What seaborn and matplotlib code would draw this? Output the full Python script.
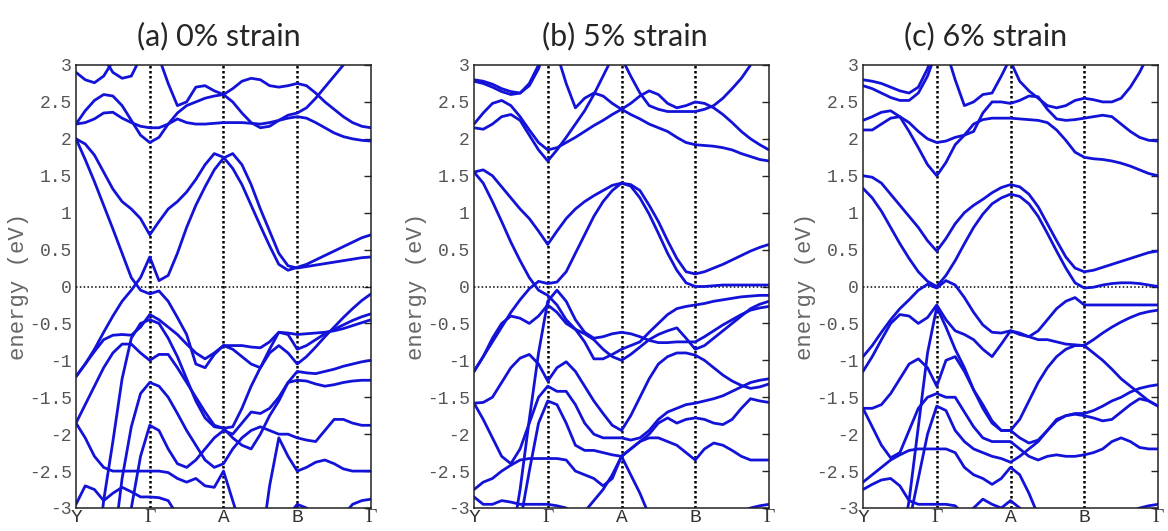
import numpy as np
import pandas as pd
import matplotlib
matplotlib.use('Agg')
import matplotlib.pyplot as plt
import seaborn as sns

# k-path Y - Gamma - A - B - Gamma, eight samples per segment
k_path = np.linspace(0, 4, 33)
k_labels = ['Y', 'Γ', 'A', 'B', 'Γ']
titles = ['(a) 0% strain', '(b) 5% strain', '(c) 6% strain']

# band energies (eV), one row per drawn line
bands_0 = [
    [2.2, 2.38, 2.52, 2.6, 2.58, 2.45, 2.25, 2.05, 1.95, 2.02, 2.2, 2.35, 2.45, 2.5, 2.55, 2.58, 2.6,
     2.68, 2.78, 2.82, 2.8, 2.72, 2.7, 2.72, 2.75, 2.72, 2.62, 2.5, 2.4, 2.3, 2.22, 2.17, 2.15],
    [2.2, 2.22, 2.27, 2.35, 2.36, 2.28, 2.22, 2.17, 2.15, 2.15, 2.2, 2.27, 2.22, 2.2, 2.2, 2.21, 2.22,
     2.22, 2.22, 2.21, 2.2, 2.22, 2.25, 2.28, 2.3, 2.28, 2.22, 2.15, 2.08, 2.03, 2.0, 1.98, 1.97],
    [3.6, 3.6, 3.6, 3.6, 3.6, 3.6, 3.6, 3.6, 3.4, 3.1, 2.75, 2.45, 2.5, 2.7, 2.72, 2.65, 2.6,
     2.5, 2.35, 2.22, 2.15, 2.17, 2.25, 2.32, 2.35, 2.42, 2.55, 2.7, 2.85, 3.0, 3.15, 3.3, 3.45],
    [2.9, 2.8, 2.76, 2.85, 3.05, 3.3, 3.6, 3.6, 3.6, 3.6, 3.6, 3.6, 3.6, 3.6, 3.6, 3.6, 3.6,
     3.6, 3.6, 3.6, 3.6, 3.6, 3.6, 3.6, 3.6, 3.6, 3.6, 3.6, 3.6, 3.6, 3.6, 3.6, 3.6],
    [3.6, 3.5, 3.3, 3.1, 2.9, 2.82, 2.85, 3.1, 3.4, 3.6, 3.6, 3.6, 3.6, 3.6, 3.6, 3.6, 3.6,
     3.6, 3.6, 3.6, 3.6, 3.6, 3.6, 3.6, 3.6, 3.6, 3.6, 3.6, 3.6, 3.6, 3.6, 3.6, 3.6],
    [2.0, 1.93, 1.78, 1.55, 1.32, 1.15, 1.05, 0.92, 0.7, 0.88, 1.05, 1.15, 1.28, 1.45, 1.65, 1.8, 1.75,
     1.6, 1.38, 1.1, 0.82, 0.55, 0.3, 0.22, 0.26, 0.3, 0.36, 0.42, 0.48, 0.54, 0.6, 0.66, 0.7],
    [2.0, 1.72, 1.42, 1.1, 0.78, 0.45, 0.12, -0.05, -0.1, -0.06, -0.2, -0.42, -0.65, -1.05, -1.1, -0.92, -0.8,
     -0.8, -0.8, -0.82, -0.83, -0.75, -0.62, -0.63, -0.65, -0.64, -0.63, -0.62, -0.6, -0.57, -0.53, -0.49, -0.45],
    [-1.22, -1.05, -0.85, -0.62, -0.4, -0.2, -0.05, 0.12, 0.4, 0.08, 0.15, 0.45, 0.8, 1.1, 1.35, 1.58, 1.74,
     1.8, 1.65, 1.38, 1.05, 0.75, 0.45, 0.28, 0.25, 0.27, 0.29, 0.31, 0.33, 0.35, 0.37, 0.39, 0.4],
    [-1.22, -1.05, -0.88, -0.72, -0.66, -0.65, -0.66, -0.55, -0.38, -0.45, -0.55, -0.65, -0.78, -0.9, -0.98, -0.9, -0.8,
     -0.85, -0.95, -1.05, -1.1, -0.85, -0.62, -0.65, -0.85, -0.8, -0.72, -0.64, -0.58, -0.52, -0.46, -0.41, -0.37],
    [-4.0, -4.0, -4.0, -2.9, -2.1, -1.25, -0.7, -0.5, -0.45, -0.5, -0.7, -0.95, -1.25, -1.55, -1.78, -1.9, -1.92,
     -1.9, -1.65, -1.35, -1.1, -0.9, -0.8, -0.9, -1.05, -0.95, -0.82, -0.68, -0.55, -0.42, -0.3, -0.19, -0.1],
    [-1.85, -1.6, -1.35, -1.1, -0.9, -0.78, -0.78, -0.9, -1.0, -0.92, -0.92, -1.1, -1.3, -1.5, -1.7, -1.88, -1.92,
     -2.05, -2.15, -2.2, -2.0, -1.75, -1.55, -1.3, -1.15, -1.17, -1.18, -1.15, -1.12, -1.08, -1.05, -1.02, -1.0],
    [-4.0, -4.0, -4.0, -4.0, -3.6, -2.6, -1.9, -1.45, -1.3, -1.35, -1.5, -1.72, -1.95, -2.15, -2.35, -2.45, -2.4,
     -2.2, -2.05, -1.95, -1.9, -1.95, -2.0, -2.0, -2.05, -2.08, -2.1, -1.95, -1.8, -1.8, -1.85, -1.88, -1.88],
    [-1.85, -2.05, -2.3, -2.45, -2.5, -2.5, -2.5, -2.5, -2.5, -2.5, -2.52, -2.6, -2.65, -2.6, -2.7, -2.72, -2.5,
     -2.9, -3.3, -3.6, -3.6, -2.7, -2.05, -2.3, -2.5, -2.45, -2.38, -2.35, -2.4, -2.47, -2.5, -2.5, -2.5],
    [-4.0, -4.0, -4.0, -4.0, -4.0, -3.6, -3.0, -2.3, -1.88, -1.95, -2.2, -2.4, -2.45, -2.35, -2.2, -2.05, -1.95,
     -2.0, -1.85, -1.7, -1.72, -1.65, -1.5, -1.3, -1.27, -1.28, -1.32, -1.35, -1.33, -1.3, -1.28, -1.27, -1.27],
    [-2.95, -2.7, -2.75, -2.9, -2.8, -2.72, -2.78, -2.85, -2.85, -2.86, -2.9, -3.1, -3.3, -3.5, -3.5, -3.5, -3.5,
     -3.5, -3.5, -3.5, -3.5, -3.5, -3.5, -3.1, -2.95, -3.0, -3.1, -3.2, -3.2, -3.1, -2.95, -2.9, -2.88],
]

bands_5 = [
    [2.8, 2.78, 2.74, 2.68, 2.64, 2.62, 2.75, 3.0, 3.3, 3.6, 3.6, 3.6, 3.6, 3.6, 3.6, 3.6, 3.6,
     3.6, 3.6, 3.6, 3.6, 3.6, 3.6, 3.6, 3.6, 3.6, 3.6, 3.6, 3.6, 3.6, 3.6, 3.6, 3.6],
    [2.78, 2.75, 2.7, 2.64, 2.6, 2.62, 2.72, 2.95, 3.3, 3.6, 3.6, 3.6, 3.6, 3.6, 3.6, 3.6, 3.6,
     3.6, 3.6, 3.6, 3.6, 3.6, 3.6, 3.6, 3.6, 3.6, 3.6, 3.6, 3.6, 3.6, 3.6, 3.6, 3.6],
    [2.2, 2.35, 2.48, 2.52, 2.45, 2.3, 2.12, 1.95, 1.85, 1.88, 1.95, 2.02, 2.1, 2.18, 2.25, 2.33, 2.4,
     2.48, 2.58, 2.65, 2.6, 2.48, 2.42, 2.45, 2.5, 2.48, 2.42, 2.33, 2.22, 2.1, 2.0, 1.92, 1.85],
    [2.15, 2.13, 2.2, 2.3, 2.33, 2.25, 2.05, 1.85, 1.7, 1.85, 2.02, 2.2, 2.38, 2.6, 2.85, 3.1, 3.4,
     3.6, 3.6, 3.6, 3.6, 3.6, 3.6, 3.6, 3.6, 3.6, 3.6, 3.6, 3.6, 3.6, 3.6, 3.6, 3.6],
    [3.6, 3.6, 3.6, 3.6, 3.6, 3.6, 3.6, 3.6, 3.5, 3.15, 2.75, 2.42, 2.55, 2.62, 2.58, 2.48, 2.4,
     2.33, 2.27, 2.2, 2.15, 2.1, 2.02, 1.95, 1.92, 1.91, 1.9, 1.88, 1.85, 1.8, 1.76, 1.72, 1.7],
    [3.6, 3.6, 3.6, 3.6, 3.6, 3.6, 3.6, 3.6, 3.6, 3.6, 3.6, 3.6, 3.6, 3.6, 3.6, 3.5, 3.1,
     2.85, 2.62, 2.45, 2.4, 2.37, 2.37, 2.37, 2.37, 2.4, 2.45, 2.55, 2.68, 2.82, 3.0, 3.2, 3.4],
    [1.55, 1.58, 1.5, 1.35, 1.2, 1.05, 0.92, 0.75, 0.57, 0.75, 0.92, 1.05, 1.15, 1.23, 1.3, 1.37, 1.4,
     1.38, 1.3, 1.1, 0.88, 0.62, 0.38, 0.2, 0.17, 0.2, 0.25, 0.3, 0.36, 0.42, 0.48, 0.53, 0.57],
    [1.55, 1.4, 1.15, 0.88, 0.6, 0.35, 0.12, -0.05, -0.12, -0.25, -0.45, -0.58, -0.75, -0.98, -0.98, -0.92, -0.85,
     -0.8, -0.75, -0.62, -0.5, -0.38, -0.3, -0.27, -0.25, -0.23, -0.2, -0.18, -0.16, -0.14, -0.13, -0.12, -0.12],
    [-1.15, -0.95, -0.75, -0.55, -0.35, -0.18, -0.03, 0.07, 0.04, 0.06, 0.2, 0.45, 0.7, 0.95, 1.15, 1.3, 1.4,
     1.36, 1.2, 0.98, 0.72, 0.45, 0.22, 0.05, 0.0, 0.0, 0.01, 0.02, 0.02, 0.02, 0.02, 0.02, 0.02],
    [-1.15, -0.95, -0.7, -0.5, -0.4, -0.43, -0.5, -0.4, -0.25, -0.35, -0.5, -0.58, -0.64, -0.72, -0.85, -0.95, -1.0,
     -0.92, -0.82, -0.72, -0.65, -0.6, -0.56, -0.7, -0.85, -0.8, -0.7, -0.6, -0.5, -0.4, -0.3, -0.24, -0.2],
    [-4.0, -4.0, -4.0, -4.0, -3.5, -2.75, -1.8, -0.9, -0.2, -0.05, -0.2, -0.45, -0.62, -0.7, -0.68, -0.64, -0.62,
     -0.64, -0.68, -0.73, -0.76, -0.76, -0.75, -0.75, -0.75, -0.68, -0.6, -0.52, -0.45, -0.38, -0.32, -0.29, -0.27],
    [-1.58, -1.57, -1.5, -1.3, -1.1, -0.97, -0.92, -1.05, -1.28, -1.1, -1.02, -1.15, -1.35, -1.55, -1.72, -1.88, -1.95,
     -1.75, -1.5, -1.25, -1.05, -0.95, -0.9, -0.9, -0.93, -1.0, -1.1, -1.2, -1.28, -1.34, -1.38, -1.36, -1.32],
    [-1.58, -1.8, -2.05, -2.3, -2.4, -2.2, -1.85, -1.5, -1.35, -1.42, -1.42, -1.6, -1.85, -2.0, -2.05, -2.05, -2.05,
     -2.08, -2.05, -1.95, -1.8, -1.7, -1.65, -1.6, -1.58, -1.55, -1.52, -1.48, -1.42, -1.36, -1.3, -1.27, -1.25],
    [-4.0, -4.0, -4.0, -4.0, -3.8, -3.2, -2.5, -1.85, -1.55, -1.6, -1.85, -2.15, -2.22, -2.22, -2.25, -2.28, -2.3,
     -2.2, -2.1, -2.0, -1.85, -1.78, -1.85, -1.8, -1.78, -1.8, -1.85, -1.87, -1.8, -1.65, -1.52, -1.55, -1.57],
    [-2.75, -2.65, -2.6, -2.5, -2.42, -2.35, -2.33, -2.33, -2.33, -2.33, -2.35, -2.5, -2.55, -2.6, -2.7, -2.6, -2.3,
     -2.2, -2.1, -2.05, -2.05, -2.1, -2.15, -2.25, -2.35, -2.2, -2.12, -2.15, -2.22, -2.3, -2.35, -2.35, -2.35],
    [-2.85, -2.95, -2.95, -2.9, -2.92, -2.95, -2.95, -2.95, -2.95, -2.97, -3.0, -3.1, -3.05, -2.9, -2.75, -2.55, -2.3,
     -2.55, -2.8, -3.1, -3.4, -3.6, -3.6, -3.6, -3.6, -3.4, -3.3, -3.2, -3.1, -3.05, -3.0, -2.97, -2.95],
]

bands_6 = [
    [2.8, 2.78, 2.75, 2.7, 2.65, 2.62, 2.7, 2.95, 3.3, 3.6, 3.6, 3.6, 3.6, 3.6, 3.6, 3.6, 3.6,
     3.6, 3.6, 3.6, 3.6, 3.6, 3.6, 3.6, 3.6, 3.6, 3.6, 3.6, 3.6, 3.6, 3.6, 3.6, 3.6],
    [2.72, 2.68, 2.62, 2.56, 2.52, 2.52, 2.62, 2.85, 3.2, 3.6, 3.6, 3.6, 3.6, 3.6, 3.6, 3.6, 3.6,
     3.6, 3.6, 3.6, 3.6, 3.6, 3.6, 3.6, 3.6, 3.6, 3.6, 3.6, 3.6, 3.6, 3.6, 3.6, 3.6],
    [2.25, 2.3, 2.36, 2.38, 2.3, 2.1, 1.88, 1.65, 1.5, 1.68, 1.92, 2.05, 2.2, 2.26, 2.28, 2.28, 2.28,
     2.27, 2.26, 2.25, 2.22, 2.12, 1.98, 1.82, 1.75, 1.73, 1.72, 1.7, 1.67, 1.63, 1.58, 1.53, 1.5],
    [2.12, 2.12, 2.2, 2.28, 2.3, 2.22, 2.1, 2.0, 1.95, 1.97, 2.02, 2.05, 2.1, 2.35, 2.5, 2.5, 2.48,
     2.52, 2.58, 2.57, 2.4, 2.27, 2.25, 2.26, 2.28, 2.3, 2.32, 2.3, 2.2, 2.1, 2.02, 1.98, 1.97],
    [3.6, 3.6, 3.6, 3.6, 3.6, 3.6, 3.6, 3.6, 3.6, 3.6, 3.6, 3.6, 3.6, 3.6, 3.6, 3.4, 3.05,
     2.78, 2.65, 2.55, 2.45, 2.42, 2.45, 2.52, 2.55, 2.53, 2.5, 2.5, 2.55, 2.7, 2.9, 3.15, 3.4],
    [3.6, 3.6, 3.6, 3.6, 3.6, 3.6, 3.6, 3.6, 3.5, 3.2, 2.8, 2.45, 2.5, 2.6, 2.62, 2.85, 3.1,
     3.4, 3.6, 3.6, 3.6, 3.6, 3.6, 3.6, 3.6, 3.6, 3.6, 3.6, 3.6, 3.6, 3.6, 3.6, 3.6],
    [1.5, 1.48, 1.4, 1.25, 1.1, 0.95, 0.8, 0.62, 0.48, 0.65, 0.85, 1.0, 1.1, 1.18, 1.27, 1.34, 1.38,
     1.35, 1.25, 1.08, 0.85, 0.62, 0.4, 0.25, 0.2, 0.22, 0.26, 0.3, 0.34, 0.38, 0.42, 0.46, 0.48],
    [1.33, 1.2, 1.02, 0.8, 0.58, 0.38, 0.2, 0.07, 0.0, 0.15, 0.35, 0.58, 0.8, 0.98, 1.12, 1.2, 1.25,
     1.22, 1.12, 0.95, 0.72, 0.48, 0.25, 0.05, -0.02, -0.01, 0.02, 0.04, 0.05, 0.05, 0.04, 0.02, 0.0],
    [-0.95, -0.8, -0.62, -0.45, -0.3, -0.18, -0.05, 0.03, -0.02, 0.08, 0.02, -0.15, -0.35, -0.52, -0.62, -0.63, -0.6,
     -0.63, -0.68, -0.72, -0.72, -0.75, -0.78, -0.79, -0.8, -0.72, -0.63, -0.55, -0.48, -0.42, -0.37, -0.34, -0.32],
    [-1.15, -0.95, -0.72, -0.5, -0.38, -0.4, -0.5, -0.42, -0.25, -0.45, -0.6, -0.65, -0.72, -0.85, -0.95, -0.78, -0.6,
     -0.65, -0.68, -0.6, -0.45, -0.3, -0.2, -0.15, -0.25, -0.25, -0.25, -0.25, -0.25, -0.25, -0.25, -0.25, -0.25],
    [-4.0, -4.0, -4.0, -4.0, -3.6, -2.9, -1.9, -0.9, -0.28, -0.55, -0.85, -1.1, -1.4, -1.65, -1.85, -1.95, -1.95,
     -1.8, -1.55, -1.3, -1.1, -0.95, -0.85, -0.8, -0.8, -0.9, -1.0, -1.12, -1.25, -1.35, -1.45, -1.55, -1.62],
    [-1.65, -1.65, -1.6, -1.45, -1.25, -1.05, -0.98, -1.1, -1.35, -1.0, -0.95, -1.15, -1.4, -1.6, -1.82, -1.95, -1.95,
     -2.05, -2.12, -2.08, -1.95, -1.82, -1.75, -1.72, -1.72, -1.68, -1.62, -1.55, -1.5, -1.43, -1.38, -1.35, -1.33],
    [-4.0, -4.0, -4.0, -4.0, -3.8, -3.2, -2.6, -2.0, -1.62, -1.68, -1.95, -2.1, -2.2, -2.25, -2.3, -2.33, -2.38,
     -2.3, -2.2, -2.1, -1.95, -1.8, -1.75, -1.73, -1.75, -1.78, -1.82, -1.8, -1.7, -1.6, -1.52, -1.55, -1.62],
    [-2.65, -2.55, -2.45, -2.35, -2.28, -2.22, -2.2, -2.2, -2.2, -2.2, -2.25, -2.45, -2.55, -2.6, -2.68, -2.6, -2.45,
     -2.55, -2.8, -3.1, -3.4, -3.6, -3.6, -3.6, -3.6, -3.6, -3.6, -3.6, -3.6, -3.6, -3.6, -3.6, -3.6],
    [-1.65, -1.9, -2.15, -2.32, -2.25, -1.95, -1.65, -1.5, -1.45, -1.5, -1.5, -1.7, -1.9, -2.05, -2.1, -2.1, -2.1,
     -2.2, -2.3, -2.35, -2.3, -2.28, -2.3, -2.3, -2.28, -2.25, -2.2, -2.1, -2.05, -2.1, -2.18, -2.2, -2.2],
    [-2.75, -2.68, -2.62, -2.6, -2.7, -2.9, -2.95, -2.95, -2.95, -2.95, -2.97, -3.1, -3.0, -2.88, -2.95, -3.0, -2.9,
     -3.0, -3.1, -3.3, -3.5, -3.6, -3.6, -3.6, -3.6, -3.4, -3.3, -3.2, -3.1, -3.05, -3.0, -2.97, -2.95],
]

panel_bands = [bands_0, bands_5, bands_6]


def to_long(bands):
    rows = []
    for i, band in enumerate(bands):
        for k, e in zip(k_path, band):
            rows.append({'k': k, 'energy': e, 'band': i})
    return pd.DataFrame(rows)


sns.set_style('white')
plt.rcParams['font.family'] = ['Liberation Mono', 'DejaVu Sans']

fig = plt.figure(figsize=(11.68, 5.31), dpi=100)
lefts = [76 / 1168, 474 / 1168, 863 / 1168]
title_x = [219 / 1168, 625 / 1168, 986 / 1168]

for left, bands, title, tx in zip(lefts, panel_bands, titles, title_x):
    ax = fig.add_axes([left, 23 / 531, 295 / 1168, 443 / 531])
    df = to_long(bands)
    sns.lineplot(data=df, x='k', y='energy', units='band', estimator=None,
                 sort=False, color='#1212d8', linewidth=2.0, ax=ax)

    # high-symmetry points and the Fermi level
    for xv in [1, 2, 3]:
        ax.axvline(xv, color='black', linestyle=(0, (1, 1)), linewidth=1.8, zorder=1)
    ax.axhline(0, color='black', linestyle=(0, (1, 1.5)), linewidth=1.1, zorder=1)

    ax.set_xlim(0, 4)
    ax.set_ylim(-3, 3)
    ax.set_xticks(range(5))
    ax.set_xticklabels(k_labels)
    for lab in ax.get_xticklabels():
        if lab.get_text() == 'Γ':
            lab.set_fontfamily(['Liberation Serif', 'DejaVu Serif'])
            lab.set_fontsize(17)
    yt = np.arange(-3, 3.01, 0.5)
    ax.set_yticks(yt)
    ax.set_yticklabels([f'{v:g}' for v in yt])
    ax.tick_params(axis='y', direction='in', length=5, width=1, right=True,
                   labelsize=13, labelcolor='#555555', pad=3)
    ax.tick_params(axis='x', length=0, labelsize=14, labelcolor='#333333', pad=1)
    for s in ax.spines.values():
        s.set_color('#222222')
        s.set_linewidth(1.1)
    ax.set_xlabel('')
    ax.set_ylabel('energy (eV)', fontsize=16, color='#666666')
    ax.yaxis.set_label_coords(-0.16, 0.5)

    fig.text(tx, 1 - 36 / 531, title, ha='center', va='center',
             fontsize=22, family='Lato')

fig.savefig('out.png', dpi=100)
